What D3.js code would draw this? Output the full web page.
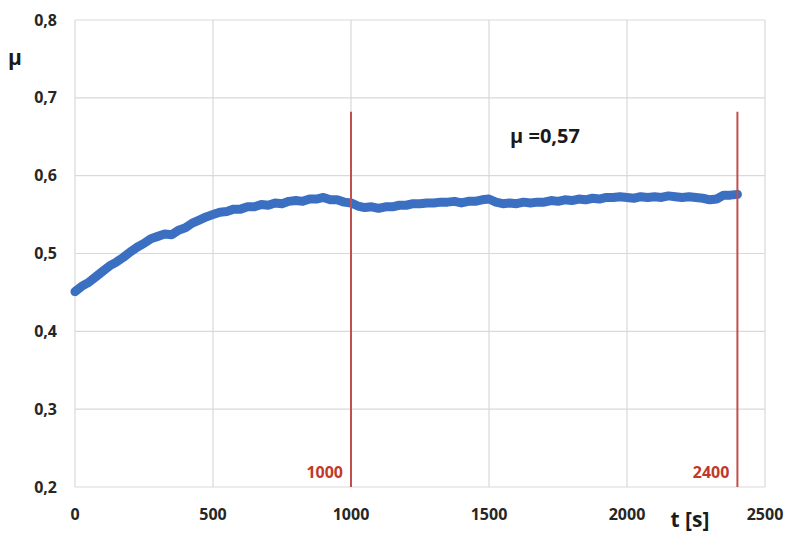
<!DOCTYPE html>
<html>
<head>
<meta charset="utf-8">
<script src="https://cdn.jsdelivr.net/npm/d3@7"></script>
<style>
  body { margin: 0; background: #fff; }
  text { font-family: "Open Sans", sans-serif; font-weight: bold; }
</style>
</head>
<body>
<div id="chart"></div>
<script>
const width = 788,
  height = 533,
  margin = { top: 20, bottom: 46, left: 75, right: 23 };

// time [s] and friction coefficient
const times = [
  0, 25, 50, 75, 100, 125, 150, 175, 200, 225,
  250, 275, 300, 325, 350, 375, 400, 425, 450, 475,
  500, 525, 550, 575, 600, 625, 650, 675, 700, 725,
  750, 775, 800, 825, 850, 875, 900, 925, 950, 975,
  1000, 1025, 1050, 1075, 1100, 1125, 1150, 1175, 1200, 1225,
  1250, 1275, 1300, 1325, 1350, 1375, 1400, 1425, 1450, 1475,
  1500, 1525, 1550, 1575, 1600, 1625, 1650, 1675, 1700, 1725,
  1750, 1775, 1800, 1825, 1850, 1875, 1900, 1925, 1950, 1975,
  2000, 2025, 2050, 2075, 2100, 2125, 2150, 2175, 2200, 2225,
  2250, 2275, 2300, 2325, 2350, 2375, 2400
];
const mu = [
  0.451, 0.458, 0.463, 0.470, 0.477, 0.484, 0.489, 0.495, 0.502, 0.508,
  0.513, 0.519, 0.522, 0.525, 0.524, 0.530, 0.533, 0.539, 0.543, 0.547,
  0.550, 0.553, 0.554, 0.557, 0.557, 0.560, 0.560, 0.563, 0.562, 0.565,
  0.564, 0.567, 0.568, 0.567, 0.570, 0.570, 0.572, 0.569, 0.569, 0.566,
  0.565, 0.561, 0.559, 0.560, 0.558, 0.560, 0.560, 0.562, 0.562, 0.564,
  0.564, 0.565, 0.565, 0.566, 0.566, 0.567, 0.565, 0.567, 0.567, 0.569,
  0.570, 0.566, 0.564, 0.565, 0.564, 0.566, 0.565, 0.566, 0.566, 0.568,
  0.567, 0.569, 0.568, 0.570, 0.569, 0.571, 0.570, 0.572, 0.572, 0.573,
  0.572, 0.571, 0.573, 0.572, 0.573, 0.572, 0.574, 0.573, 0.572, 0.573,
  0.572, 0.571, 0.569, 0.570, 0.575, 0.575, 0.576
];
const xTicks = [0, 500, 1000, 1500, 2000, 2500];
const yTicks = [0.2, 0.3, 0.4, 0.5, 0.6, 0.7, 0.8];
const markers = [1000, 2400];
const markerTop = 0.682;
const meanLabel = "μ =0,57";

const data = times.map((t, i) => ({ t: t, mu: mu[i] }));
const fmt = d => String(d).replace(".", ",");

const svg = d3.select("#chart")
  .append("svg")
  .attr("width", width)
  .attr("height", height);

const xScale = d3.scaleLinear()
  .domain([0, 2500])
  .range([margin.left, width - margin.right]);

const yScale = d3.scaleLinear()
  .domain([0.2, 0.8])
  .range([height - margin.bottom, margin.top]);

// grid
svg.append("g")
  .selectAll("line")
  .data(yTicks)
  .join("line")
  .attr("x1", margin.left)
  .attr("x2", width - margin.right)
  .attr("y1", d => yScale(d))
  .attr("y2", d => yScale(d))
  .attr("stroke", "#d9d9d9")
  .attr("stroke-width", 1.2);

svg.append("g")
  .selectAll("line")
  .data(xTicks)
  .join("line")
  .attr("x1", d => xScale(d))
  .attr("x2", d => xScale(d))
  .attr("y1", margin.top)
  .attr("y2", height - margin.bottom)
  .attr("stroke", "#d9d9d9")
  .attr("stroke-width", 1.2);

// tick labels
svg.append("g")
  .selectAll("text")
  .data(yTicks)
  .join("text")
  .attr("x", 57)
  .attr("y", d => yScale(d))
  .attr("dy", "0.35em")
  .attr("text-anchor", "end")
  .attr("font-size", 16)
  .attr("fill", "#262626")
  .text(fmt);

svg.append("g")
  .selectAll("text")
  .data(xTicks)
  .join("text")
  .attr("x", d => xScale(d))
  .attr("y", 514)
  .attr("dy", "0.35em")
  .attr("text-anchor", "middle")
  .attr("font-size", 16)
  .attr("fill", "#262626")
  .text(d => d);

// axis titles
svg.append("text")
  .attr("x", 15)
  .attr("y", 58)
  .attr("dy", "0.35em")
  .attr("text-anchor", "middle")
  .attr("font-size", 21)
  .attr("fill", "#1a1a1a")
  .text("μ");

svg.append("text")
  .attr("x", 690)
  .attr("y", 520)
  .attr("dy", "0.35em")
  .attr("text-anchor", "middle")
  .attr("font-size", 21)
  .attr("fill", "#1a1a1a")
  .text("t [s]");

// data line
const line = d3.line()
  .x(d => xScale(d.t))
  .y(d => yScale(d.mu));

svg.append("path")
  .datum(data)
  .attr("d", line)
  .attr("fill", "none")
  .attr("stroke", "#3a6fc1")
  .attr("stroke-width", 9)
  .attr("stroke-linejoin", "round")
  .attr("stroke-linecap", "round");

// marker lines
svg.append("g")
  .selectAll("line")
  .data(markers)
  .join("line")
  .attr("x1", d => xScale(d))
  .attr("x2", d => xScale(d))
  .attr("y1", yScale(markerTop))
  .attr("y2", yScale(0.2))
  .attr("stroke", "#c0504d")
  .attr("stroke-width", 2);

svg.append("g")
  .selectAll("text")
  .data(markers)
  .join("text")
  .attr("x", d => xScale(d) - 8)
  .attr("y", 472)
  .attr("dy", "0.35em")
  .attr("text-anchor", "end")
  .attr("font-size", 16)
  .attr("fill", "#c0392b")
  .text(d => d);

svg.append("text")
  .attr("x", 545)
  .attr("y", 136)
  .attr("dy", "0.35em")
  .attr("text-anchor", "middle")
  .attr("font-size", 20)
  .attr("fill", "#1a1a1a")
  .text(meanLabel);
</script>
</body>
</html>
